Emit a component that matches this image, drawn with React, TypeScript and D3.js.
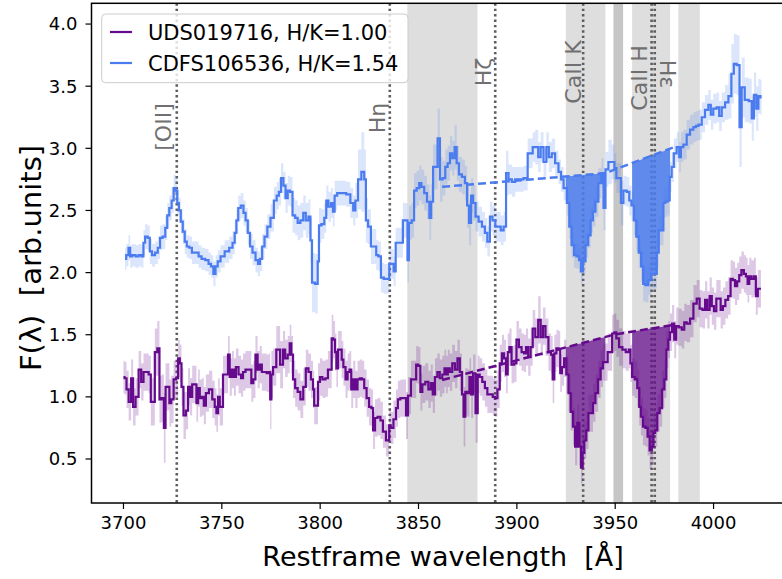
import React from 'react';
import * as d3 from 'd3';

type Pt = [number, number, number];

const WIDTH = 782;
const HEIGHT = 579;

const xDomain: [number, number] = [3683.75, 4041.25];
const yDomain: [number, number] = [0.146, 4.167];

const xTicks = [3700, 3750, 3800, 3850, 3900, 3950, 4000];
const yTicks = [0.5, 1.0, 1.5, 2.0, 2.5, 3.0, 3.5, 4.0];

const seriesNames = ['UDS019716, H/K=1.00', 'CDFS106536, H/K=1.54'];
const seriesColors = ['#650a8c', '#4a7bef'];

// [wavelength (Å), flux, 1σ error]
const udsSpectrum: Pt[] = [
  [3700.0, 1.16, 0.13], [3701.1, 1.15, 0.13], [3702.0, 1.06, 0.15], [3703.3, 0.96, 0.15], [3704.5, 1.15, 0.15],
  [3705.3, 0.92, 0.15], [3707.0, 1.0, 0.15], [3708.4, 1.22, 0.15], [3709.6, 1.12, 0.15], [3710.8, 1.2, 0.15],
  [3712.1, 1.2, 0.15], [3713.5, 1.18, 0.15], [3714.3, 0.96, 0.19], [3715.5, 0.96, 0.19], [3716.4, 1.36, 0.19],
  [3718.0, 1.39, 0.22], [3718.6, 0.98, 0.19], [3720.2, 0.99, 0.19], [3720.9, 0.75, 0.28], [3721.9, 1.08, 0.19],
  [3723.1, 1.08, 0.19], [3723.6, 0.95, 0.19], [3725.0, 0.98, 0.19], [3726.0, 1.14, 0.15], [3727.4, 1.15, 0.15],
  [3728.2, 1.31, 0.15], [3729.1, 1.27, 0.15], [3729.9, 1.08, 0.15], [3731.1, 0.85, 0.19], [3732.4, 0.89, 0.15],
  [3733.3, 1.08, 0.15], [3734.4, 1.0, 0.15], [3735.5, 1.1, 0.15], [3736.7, 1.1, 0.15], [3737.5, 0.95, 0.15],
  [3738.4, 1.07, 0.15], [3739.2, 0.99, 0.15], [3740.5, 1.0, 0.15], [3741.2, 0.93, 0.15], [3742.6, 1.03, 0.15],
  [3744.3, 1.06, 0.15], [3746.0, 0.98, 0.15], [3746.8, 0.92, 0.15], [3747.7, 0.87, 0.15], [3748.5, 1.0, 0.15],
  [3749.4, 0.92, 0.15], [3750.2, 0.92, 0.15], [3751.0, 1.18, 0.15], [3752.7, 1.18, 0.15], [3753.6, 1.34, 0.15],
  [3754.4, 1.16, 0.15], [3755.8, 1.22, 0.15], [3756.5, 1.16, 0.15], [3757.8, 1.24, 0.15], [3759.2, 1.18, 0.15],
  [3760.4, 1.15, 0.15], [3761.2, 1.2, 0.15], [3762.9, 1.22, 0.15], [3764.6, 1.22, 0.15], [3765.4, 1.11, 0.15],
  [3766.6, 1.14, 0.15], [3767.6, 1.34, 0.15], [3768.8, 1.22, 0.15], [3769.7, 1.26, 0.15], [3771.0, 1.2, 0.15],
  [3772.2, 1.2, 0.15], [3773.4, 1.19, 0.15], [3774.4, 1.2, 0.15], [3774.8, 0.98, 0.24], [3775.6, 1.18, 0.19],
  [3776.5, 1.24, 0.15], [3777.3, 1.24, 0.15], [3778.1, 1.38, 0.19], [3779.5, 1.38, 0.19], [3779.8, 1.26, 0.19],
  [3780.7, 1.26, 0.19], [3781.5, 1.38, 0.15], [3782.9, 1.31, 0.15], [3784.1, 1.34, 0.15], [3784.9, 1.43, 0.15],
  [3785.8, 1.34, 0.15], [3786.6, 1.14, 0.15], [3788.0, 1.07, 0.15], [3789.1, 1.04, 0.15], [3790.8, 0.98, 0.15],
  [3792.0, 1.08, 0.15], [3793.4, 1.23, 0.15], [3794.7, 1.2, 0.15], [3795.9, 1.14, 0.15], [3796.8, 1.06, 0.15],
  [3797.1, 0.93, 0.15], [3798.5, 0.93, 0.15], [3799.3, 1.12, 0.15], [3800.5, 1.16, 0.15], [3801.8, 1.14, 0.15],
  [3803.5, 1.15, 0.15], [3804.4, 1.22, 0.15], [3805.6, 1.22, 0.15], [3806.1, 1.47, 0.19], [3807.3, 1.46, 0.15],
  [3807.8, 1.36, 0.15], [3808.7, 1.23, 0.15], [3809.5, 1.38, 0.15], [3810.7, 1.38, 0.15], [3811.2, 1.3, 0.15],
  [3812.4, 1.24, 0.15], [3813.4, 1.14, 0.15], [3814.5, 1.2, 0.15], [3815.4, 1.22, 0.15], [3816.2, 1.06, 0.15],
  [3817.4, 1.14, 0.15], [3818.4, 1.06, 0.15], [3819.6, 1.14, 0.15], [3820.7, 1.15, 0.15], [3821.8, 1.14, 0.15],
  [3823.0, 1.07, 0.15], [3824.2, 0.99, 0.15], [3825.5, 0.92, 0.15], [3826.6, 0.91, 0.15], [3827.2, 0.73, 0.15],
  [3828.6, 0.83, 0.15], [3829.8, 0.84, 0.15], [3831.5, 0.81, 0.15], [3832.3, 0.72, 0.13], [3833.2, 0.72, 0.13],
  [3833.7, 0.65, 0.13], [3834.9, 0.65, 0.13], [3835.3, 0.77, 0.13], [3836.5, 0.75, 0.13], [3838.0, 0.82, 0.15],
  [3839.1, 0.91, 0.15], [3839.9, 0.98, 0.15], [3841.6, 0.99, 0.15], [3843.3, 0.99, 0.15], [3844.0, 0.85, 0.19],
  [3845.3, 1.01, 0.15], [3847.0, 1.14, 0.15], [3848.4, 1.14, 0.15], [3849.2, 1.26, 0.15], [3850.6, 1.25, 0.15],
  [3851.3, 1.04, 0.15], [3852.6, 1.1, 0.15], [3854.3, 1.12, 0.15], [3855.7, 1.06, 0.15], [3856.8, 1.11, 0.15],
  [3857.7, 1.02, 0.15], [3859.0, 1.16, 0.15], [3860.2, 1.2, 0.15], [3861.4, 1.15, 0.15], [3862.8, 1.18, 0.15],
  [3863.6, 1.23, 0.15], [3864.5, 1.18, 0.15], [3865.3, 1.23, 0.15], [3866.5, 1.2, 0.15], [3867.8, 1.27, 0.15],
  [3869.2, 1.22, 0.15], [3870.4, 1.31, 0.15], [3871.6, 1.2, 0.15], [3872.6, 1.02, 0.19], [3873.3, 0.84, 0.24],
  [3874.3, 1.04, 0.19], [3875.5, 1.03, 0.19], [3876.3, 1.16, 0.15], [3877.2, 1.02, 0.19], [3878.3, 1.19, 0.15],
  [3879.7, 0.87, 0.24], [3880.5, 1.18, 0.15], [3881.7, 1.16, 0.15], [3883.1, 1.12, 0.15], [3884.4, 1.07, 0.15],
  [3885.6, 1.02, 0.15], [3887.3, 1.02, 0.15], [3888.2, 1.0, 0.15], [3889.5, 0.99, 0.15], [3890.7, 1.06, 0.15],
  [3891.9, 1.27, 0.15], [3892.9, 1.35, 0.15], [3894.1, 1.31, 0.15], [3894.9, 1.18, 0.15], [3895.8, 1.36, 0.15],
  [3896.6, 1.4, 0.15], [3898.0, 1.26, 0.15], [3899.2, 1.27, 0.15], [3900.4, 1.46, 0.15], [3901.7, 1.4, 0.15],
  [3903.1, 1.36, 0.15], [3904.2, 1.35, 0.15], [3905.1, 1.4, 0.15], [3906.4, 1.32, 0.15], [3907.6, 1.4, 0.15],
  [3908.5, 1.55, 0.15], [3910.2, 1.48, 0.15], [3911.5, 1.62, 0.19], [3912.7, 1.48, 0.15], [3913.9, 1.57, 0.15],
  [3915.2, 1.48, 0.15], [3916.9, 1.36, 0.15], [3917.8, 1.34, 0.15], [3918.6, 1.14, 0.19], [3919.5, 1.35, 0.15],
  [3920.7, 1.39, 0.15], [3921.7, 1.38, 0.15], [3922.4, 1.19, 0.15], [3923.4, 1.24, 0.15], [3924.6, 1.31, 0.15],
  [3925.7, 1.18, 0.15], [3926.8, 1.03, 0.15], [3927.9, 0.88, 0.15], [3929.1, 0.76, 0.15], [3930.1, 0.6, 0.15],
  [3931.3, 0.79, 0.15], [3932.2, 0.6, 0.15], [3933.0, 0.43, 0.13], [3933.9, 0.55, 0.13], [3934.7, 0.65, 0.15],
  [3935.9, 0.73, 0.15], [3936.9, 0.87, 0.15], [3938.1, 0.87, 0.15], [3939.3, 0.95, 0.15], [3940.6, 1.03, 0.15],
  [3942.0, 1.14, 0.15], [3943.2, 1.23, 0.15], [3944.4, 1.28, 0.15], [3945.7, 1.28, 0.15], [3946.6, 1.36, 0.15],
  [3947.8, 1.36, 0.15], [3949.1, 1.51, 0.15], [3950.0, 1.52, 0.15], [3951.1, 1.47, 0.15], [3952.8, 1.4, 0.15],
  [3954.5, 1.38, 0.15], [3956.2, 1.36, 0.15], [3957.6, 1.38, 0.15], [3957.9, 1.27, 0.15], [3959.3, 1.16, 0.15],
  [3960.6, 1.14, 0.15], [3961.8, 1.07, 0.15], [3962.6, 0.92, 0.15], [3963.5, 0.84, 0.15], [3964.7, 0.76, 0.15],
  [3966.0, 0.75, 0.15], [3966.9, 0.68, 0.15], [3968.1, 0.57, 0.15], [3969.1, 0.6, 0.13], [3969.8, 0.71, 0.13],
  [3970.8, 0.73, 0.13], [3972.0, 0.87, 0.15], [3973.2, 0.91, 0.15], [3974.5, 1.06, 0.15], [3975.5, 1.14, 0.15],
  [3976.5, 1.38, 0.15], [3977.5, 1.46, 0.15], [3978.2, 1.52, 0.15], [3979.6, 1.59, 0.15], [3980.4, 1.46, 0.15],
  [3981.6, 1.57, 0.15], [3983.0, 1.56, 0.15], [3984.7, 1.54, 0.15], [3985.5, 1.6, 0.15], [3987.2, 1.59, 0.15],
  [3988.9, 1.63, 0.15], [3990.6, 1.75, 0.15], [3992.3, 1.79, 0.15], [3993.5, 1.71, 0.15], [3995.2, 1.7, 0.15],
  [3996.2, 1.78, 0.15], [3997.4, 1.7, 0.15], [3998.6, 1.81, 0.15], [3999.6, 1.73, 0.15], [4000.8, 1.69, 0.15],
  [4002.0, 1.79, 0.15], [4003.0, 1.79, 0.15], [4004.2, 1.7, 0.15], [4005.3, 1.73, 0.15], [4006.7, 1.78, 0.15],
  [4008.1, 1.81, 0.15], [4009.2, 1.95, 0.15], [4010.4, 1.94, 0.15], [4011.4, 1.89, 0.15], [4012.6, 1.93, 0.15],
  [4013.5, 1.98, 0.15], [4014.8, 2.02, 0.15], [4016.0, 1.99, 0.15], [4016.9, 1.97, 0.15], [4017.7, 1.91, 0.15],
  [4018.6, 1.97, 0.15], [4019.9, 1.95, 0.15], [4021.1, 1.97, 0.15], [4021.9, 1.81, 0.15], [4023.1, 1.87, 0.15],
  [4024.1, 1.87, 0.15],
];

const cdfsSpectrum: Pt[] = [
  [3700.8, 2.11, 0.09], [3702.0, 2.14, 0.09], [3703.1, 2.2, 0.1], [3703.7, 2.13, 0.09], [3705.3, 2.14, 0.09],
  [3707.0, 2.13, 0.09], [3708.4, 2.14, 0.09], [3709.9, 2.13, 0.09], [3710.4, 2.24, 0.1], [3711.6, 2.29, 0.1],
  [3713.0, 2.28, 0.1], [3713.8, 2.17, 0.1], [3715.2, 2.14, 0.09], [3716.9, 2.16, 0.09], [3718.0, 2.2, 0.09],
  [3719.2, 2.28, 0.1], [3720.6, 2.29, 0.1], [3721.9, 2.36, 0.1], [3722.6, 2.46, 0.1], [3724.0, 2.52, 0.1],
  [3725.0, 2.58, 0.1], [3726.0, 2.68, 0.11], [3727.0, 2.66, 0.11], [3727.7, 2.56, 0.1], [3728.7, 2.5, 0.1],
  [3729.6, 2.41, 0.1], [3730.7, 2.33, 0.1], [3731.6, 2.25, 0.1], [3732.8, 2.21, 0.09], [3734.1, 2.2, 0.09],
  [3735.5, 2.16, 0.09], [3737.5, 2.16, 0.09], [3738.9, 2.13, 0.09], [3740.5, 2.11, 0.09], [3742.6, 2.1, 0.09],
  [3743.9, 2.07, 0.09], [3745.1, 2.05, 0.09], [3746.3, 1.99, 0.1], [3747.3, 2.05, 0.09], [3748.5, 2.09, 0.09],
  [3750.2, 2.13, 0.09], [3752.7, 2.17, 0.09], [3754.8, 2.2, 0.09], [3756.1, 2.24, 0.09], [3757.0, 2.32, 0.1],
  [3757.8, 2.42, 0.1], [3758.9, 2.52, 0.1], [3760.4, 2.54, 0.1], [3761.6, 2.48, 0.1], [3762.6, 2.42, 0.1],
  [3763.8, 2.32, 0.1], [3764.9, 2.21, 0.1], [3766.3, 2.16, 0.1], [3768.0, 2.1, 0.1], [3768.8, 2.07, 0.1],
  [3770.0, 2.11, 0.1], [3771.0, 2.21, 0.1], [3772.4, 2.29, 0.1], [3773.9, 2.37, 0.1], [3775.6, 2.44, 0.11],
  [3777.3, 2.58, 0.11], [3778.5, 2.62, 0.11], [3779.5, 2.65, 0.11], [3780.7, 2.76, 0.12], [3781.9, 2.7, 0.11],
  [3782.9, 2.6, 0.12], [3784.1, 2.66, 0.12], [3785.3, 2.65, 0.12], [3786.6, 2.46, 0.14], [3788.0, 2.44, 0.14],
  [3789.1, 2.4, 0.14], [3790.8, 2.42, 0.14], [3792.0, 2.48, 0.14], [3793.4, 2.42, 0.14], [3794.7, 2.45, 0.14],
  [3795.4, 2.26, 0.18], [3796.3, 1.92, 0.24], [3798.5, 1.91, 0.24], [3799.0, 2.09, 0.18], [3799.8, 2.38, 0.14],
  [3801.5, 2.39, 0.12], [3802.7, 2.44, 0.12], [3803.5, 2.58, 0.12], [3804.9, 2.53, 0.12], [3806.1, 2.56, 0.12],
  [3806.9, 2.49, 0.12], [3807.8, 2.62, 0.12], [3809.5, 2.64, 0.1], [3812.0, 2.64, 0.1], [3814.5, 2.63, 0.1],
  [3816.2, 2.56, 0.12], [3817.4, 2.5, 0.12], [3818.4, 2.58, 0.14], [3820.1, 2.75, 0.24], [3821.8, 2.81, 0.32],
  [3823.0, 2.75, 0.24], [3823.5, 2.42, 0.18], [3825.2, 2.37, 0.14], [3826.4, 2.21, 0.14], [3828.1, 2.21, 0.14],
  [3828.9, 2.14, 0.12], [3830.3, 2.13, 0.12], [3831.5, 1.96, 0.12], [3833.2, 1.95, 0.12], [3834.6, 1.95, 0.12],
  [3835.7, 2.07, 0.12], [3837.0, 2.07, 0.12], [3837.7, 2.01, 0.12], [3839.1, 2.24, 0.12], [3841.6, 2.24, 0.12],
  [3842.5, 2.42, 0.14], [3844.1, 2.42, 0.14], [3844.7, 2.1, 0.18], [3845.5, 2.4, 0.14], [3847.5, 2.42, 0.14],
  [3848.0, 2.66, 0.14], [3850.1, 2.68, 0.14], [3850.6, 2.72, 0.14], [3852.3, 2.69, 0.14], [3853.5, 2.64, 0.14],
  [3855.1, 2.57, 0.14], [3856.0, 2.44, 0.18], [3856.8, 2.57, 0.14], [3858.0, 2.85, 0.18], [3859.0, 2.85, 0.18],
  [3860.4, 3.08, 0.24], [3861.4, 2.75, 0.18], [3863.1, 2.76, 0.14], [3864.1, 2.85, 0.14], [3865.5, 2.88, 0.14],
  [3866.5, 2.96, 0.14], [3867.8, 2.92, 0.14], [3868.9, 3.01, 0.18], [3869.9, 2.88, 0.14], [3871.2, 2.79, 0.14],
  [3872.9, 2.77, 0.14], [3874.3, 2.72, 0.14], [3875.1, 2.54, 0.18], [3876.3, 2.4, 0.18], [3877.2, 2.62, 0.14],
  [3878.3, 2.56, 0.14], [3879.7, 2.45, 0.12], [3881.4, 2.41, 0.12], [3883.1, 2.37, 0.12], [3884.4, 2.32, 0.12],
  [3885.6, 2.25, 0.12], [3887.0, 2.45, 0.12], [3888.2, 2.42, 0.12], [3889.9, 2.37, 0.12], [3891.2, 2.37, 0.12],
  [3892.4, 2.34, 0.12], [3894.1, 2.37, 0.12], [3894.9, 2.8, 0.18], [3896.6, 2.75, 0.12], [3898.3, 2.73, 0.12],
  [3900.0, 2.75, 0.1], [3901.7, 2.75, 0.1], [3905.1, 2.76, 0.1], [3905.9, 2.96, 0.12], [3907.6, 2.96, 0.12],
  [3908.5, 3.01, 0.12], [3910.2, 3.01, 0.14], [3911.5, 2.93, 0.12], [3912.7, 3.01, 0.12], [3914.4, 2.89, 0.12],
  [3915.6, 3.01, 0.12], [3916.9, 2.93, 0.12], [3918.6, 2.96, 0.12], [3920.3, 2.88, 0.1], [3922.0, 2.81, 0.1],
  [3922.9, 2.75, 0.1], [3924.6, 2.68, 0.1], [3926.2, 2.56, 0.1], [3927.1, 2.37, 0.1], [3928.5, 2.22, 0.1],
  [3929.6, 2.14, 0.1], [3931.0, 2.13, 0.1], [3932.2, 2.1, 0.1], [3933.0, 2.01, 0.1], [3934.2, 2.09, 0.1],
  [3935.6, 2.22, 0.1], [3936.9, 2.3, 0.1], [3938.1, 2.42, 0.1], [3939.3, 2.49, 0.12], [3940.6, 2.57, 0.12],
  [3942.3, 2.72, 0.12], [3943.7, 2.8, 0.12], [3944.4, 2.52, 0.18], [3945.7, 2.83, 0.14], [3947.4, 2.89, 0.18],
  [3949.1, 2.89, 0.14], [3950.1, 2.84, 0.12], [3951.1, 2.76, 0.12], [3952.5, 2.76, 0.12], [3953.3, 2.56, 0.18],
  [3955.0, 2.66, 0.12], [3956.7, 2.65, 0.12], [3957.6, 2.58, 0.12], [3958.9, 2.54, 0.12], [3960.1, 2.42, 0.12],
  [3961.3, 2.29, 0.12], [3962.6, 2.16, 0.12], [3963.7, 2.05, 0.12], [3964.7, 1.91, 0.14], [3966.0, 1.9, 0.14],
  [3967.7, 1.94, 0.12], [3969.1, 1.99, 0.12], [3970.8, 1.99, 0.12], [3971.5, 2.16, 0.12], [3972.8, 2.34, 0.12],
  [3974.2, 2.34, 0.12], [3974.8, 2.56, 0.12], [3976.2, 2.57, 0.12], [3977.2, 2.58, 0.12], [3978.2, 2.77, 0.12],
  [3979.2, 2.85, 0.12], [3980.4, 2.96, 0.12], [3982.1, 3.01, 0.12], [3983.0, 2.93, 0.12], [3983.8, 3.01, 0.12],
  [3985.5, 3.03, 0.12], [3987.2, 3.11, 0.12], [3988.9, 3.15, 0.12], [3990.6, 3.17, 0.12], [3991.5, 3.18, 0.12],
  [3993.2, 3.19, 0.12], [3994.8, 3.25, 0.12], [3996.5, 3.31, 0.12], [3998.2, 3.35, 0.12], [3999.0, 3.27, 0.12],
  [4000.7, 3.32, 0.12], [4002.4, 3.33, 0.12], [4003.3, 3.26, 0.12], [4005.0, 3.33, 0.12], [4006.7, 3.37, 0.14],
  [4008.4, 3.42, 0.18], [4009.7, 3.6, 0.24], [4010.9, 3.68, 0.24], [4012.6, 3.67, 0.24], [4013.8, 3.17, 0.32],
  [4014.8, 3.49, 0.24], [4016.9, 3.39, 0.18], [4018.9, 3.38, 0.18], [4019.9, 3.24, 0.18], [4021.1, 3.43, 0.18],
  [4022.3, 3.32, 0.18], [4023.3, 3.42, 0.14], [4024.4, 3.41, 0.14],
];

// Pseudo-continuum across the Ca II H & K windows: [wavelength, flux]
const udsContinuum: [number, number][] = [[3862, 1.136], [3950, 1.503], [3980, 1.58]];
const cdfsContinuum: [number, number][] = [[3862, 2.69], [3945, 2.8], [3980, 3.01]];

// Ca II K and Ca II H integration windows (Å)
const absorptionWindows: [number, number][] = [[3924.9, 3945.0], [3958.6, 3977.9]];

// Shaded wavelength regions (Å)
const shadedRegions: [number, number][] = [[3844.3, 3880.0], [3924.9, 3945.0], [3958.6, 3977.9], [3982.1, 3993.0]];
const darkRegions: [number, number][] = [[3949.1, 3954.0]];

const lineMarkers = [
  { name: '[OII]', wave: 3727.1 },
  { name: 'Hη', wave: 3835.4 },
  { name: 'Hζ', wave: 3889.0 },
  { name: 'CaII K', wave: 3933.7 },
  { name: 'CaII H', wave: 3968.5 },
  { name: 'Hε', wave: 3970.1 },
];

// label placement: horizontal offset from the marker (px), vertical centre (px), rotation
const labelLayout: Record<string, { dx: number; cy: number; rot: number }> = {
  '[OII]': { dx: -6, cy: 127, rot: -90 },
  'Hη': { dx: -5, cy: 118, rot: -90 },
  'Hζ': { dx: -4, cy: 72, rot: -90 },
  'CaII K': { dx: -2, cy: 72, rot: -90 },
  'CaII H': { dx: -5, cy: 78, rot: -90 },
  'Hε': { dx: 5, cy: 74, rot: 90 },
};

const PLOT = { left: 91.5, right: 794.7, top: 3.3, bottom: 503 };
const FONT = 'DejaVu Sans, sans-serif';

function stepValue(data: Pt[], w: number): number {
  const i = d3.leastIndex(data, (d) => Math.abs(d[0] - w)) ?? 0;
  return data[i][1];
}

function stepVertices(data: Pt[]): [number, number][] {
  const out: [number, number][] = [];
  data.forEach((d, i) => {
    const left = i === 0 ? d[0] : (data[i - 1][0] + d[0]) / 2;
    const right = i === data.length - 1 ? d[0] : (d[0] + data[i + 1][0]) / 2;
    out.push([left, d[1]], [right, d[1]]);
  });
  return out;
}

export default function App() {
  const x = d3.scaleLinear().domain(xDomain).range([PLOT.left, PLOT.right]);
  const y = d3.scaleLinear().domain(yDomain).range([PLOT.bottom, PLOT.top]);

  const line = d3
    .line<Pt>()
    .x((d) => x(d[0]))
    .y((d) => y(d[1]))
    .curve(d3.curveStep);

  const errArea = d3
    .area<Pt>()
    .x((d) => x(d[0]))
    .y0((d) => y(d[1] - d[2]))
    .y1((d) => y(d[1] + d[2]))
    .curve(d3.curveStep);

  const contLine = d3
    .line<[number, number]>()
    .x((d) => x(d[0]))
    .y((d) => y(d[1]));

  const fillPaths = (data: Pt[], cont: [number, number][]) => {
    const contScale = d3.scaleLinear().domain(cont.map((c) => c[0])).range(cont.map((c) => c[1]));
    const verts = stepVertices(data);
    return absorptionWindows.map(([a, b]) => {
      const pts: [number, number][] = [[a, stepValue(data, a)]];
      verts.forEach((v) => {
        if (v[0] > a && v[0] < b) pts.push(v);
      });
      pts.push([b, stepValue(data, b)]);
      const area = d3
        .area<[number, number]>()
        .x((d) => x(d[0]))
        .y0((d) => y(contScale(d[0])))
        .y1((d) => y(Math.min(d[1], contScale(d[0]))));
      return area(pts) as string;
    });
  };

  const series = [
    { data: udsSpectrum, cont: udsContinuum, color: seriesColors[0], errOpacity: 0.22, fillOpacity: 0.72 },
    { data: cdfsSpectrum, cont: cdfsContinuum, color: seriesColors[1], errOpacity: 0.2, fillOpacity: 0.85 },
  ];

  const markerX = (w: number) => x(w);

  return (
    <svg
      width={WIDTH}
      height={HEIGHT}
      style={{ position: 'absolute', left: 0, top: 0, background: '#fff' }}
      fontFamily={FONT}
    >
      <defs>
        <clipPath id="plot-clip">
          <rect x={PLOT.left} y={PLOT.top} width={PLOT.right - PLOT.left} height={PLOT.bottom - PLOT.top} />
        </clipPath>
      </defs>
      <rect x={0} y={0} width={WIDTH} height={HEIGHT} fill="#ffffff" />

      <g clipPath="url(#plot-clip)">
        {shadedRegions.map(([a, b], i) => (
          <rect key={`s${i}`} x={x(a)} y={PLOT.top} width={x(b) - x(a)} height={PLOT.bottom - PLOT.top} fill="#dedede" />
        ))}
        {darkRegions.map(([a, b], i) => (
          <rect key={`d${i}`} x={x(a)} y={PLOT.top} width={x(b) - x(a)} height={PLOT.bottom - PLOT.top} fill="#c6c6c6" />
        ))}
        {lineMarkers.map((m) => (
          <line
            key={m.name}
            x1={markerX(m.wave)}
            x2={markerX(m.wave)}
            y1={PLOT.top}
            y2={PLOT.bottom}
            stroke="#5e5e5e"
            strokeWidth={2.6}
            strokeDasharray="2.4,3"
          />
        ))}
        {series.map((s, i) => (
          <path key={`e${i}`} d={errArea(s.data) as string} fill={s.color} fillOpacity={s.errOpacity} />
        ))}
        {series.map((s, i) =>
          fillPaths(s.data, s.cont).map((d, j) => (
            <path key={`f${i}${j}`} d={d} fill={s.color} fillOpacity={s.fillOpacity} />
          ))
        )}
        {series.map((s, i) => (
          <path key={`l${i}`} d={line(s.data) as string} fill="none" stroke={s.color} strokeWidth={2.2} />
        ))}
        {series.map((s, i) => (
          <path
            key={`c${i}`}
            d={contLine(s.cont) as string}
            fill="none"
            stroke={s.color}
            strokeWidth={2.5}
            strokeDasharray="8,4"
          />
        ))}
        {lineMarkers.map((m) => {
          const L = labelLayout[m.name];
          const lx = markerX(m.wave) + L.dx;
          return (
            <text
              key={`t${m.name}`}
              transform={`translate(${lx},${L.cy}) rotate(${L.rot})`}
              textAnchor="middle"
              fontSize={22}
              fill="#707070"
            >
              {m.name}
            </text>
          );
        })}
      </g>

      {/* axes frame */}
      <rect
        x={PLOT.left}
        y={PLOT.top}
        width={PLOT.right - PLOT.left}
        height={PLOT.bottom - PLOT.top}
        fill="none"
        stroke="#000"
        strokeWidth={1.5}
      />

      {xTicks.map((t) => (
        <g key={`xt${t}`} transform={`translate(${x(t)},${PLOT.bottom})`}>
          <line y1={0} y2={6} stroke="#000" strokeWidth={1.2} />
          <text y={26} textAnchor="middle" fontSize={18} fill="#000">
            {t}
          </text>
        </g>
      ))}
      {yTicks.map((t) => (
        <g key={`yt${t}`} transform={`translate(${PLOT.left},${y(t)})`}>
          <line x1={0} x2={-6} stroke="#000" strokeWidth={1.2} />
          <text x={-14} dy="0.35em" textAnchor="end" fontSize={18} fill="#000">
            {t.toFixed(1)}
          </text>
        </g>
      ))}

      <text
        x={(PLOT.left + PLOT.right) / 2}
        y={566}
        textAnchor="middle"
        fontSize={27}
        fill="#000"
        xmlSpace="preserve"
        style={{ whiteSpace: 'pre' }}
      >
        {'Restframe wavelength  [Å]'}
      </text>
      <text
        transform={`translate(41,258) rotate(-90)`}
        textAnchor="middle"
        fontSize={29}
        fill="#000"
        xmlSpace="preserve"
        style={{ whiteSpace: 'pre' }}
      >
        {'F(λ)  [arb.units]'}
      </text>

      {/* legend */}
      <g>
        <rect x={101.7} y={14} width={306.3} height={68.7} rx={4} fill="#ffffff" fillOpacity={0.8} stroke="#cccccc" strokeWidth={1} />
        {seriesNames.map((name, i) => (
          <g key={name} transform={`translate(0,${32 + i * 31})`}>
            <line x1={110} x2={132} y1={0} y2={0} stroke={seriesColors[i]} strokeWidth={2.2} />
            <text x={148} y={7.5} fontSize={21} fill="#000">
              {name}
            </text>
          </g>
        ))}
      </g>
    </svg>
  );
}
